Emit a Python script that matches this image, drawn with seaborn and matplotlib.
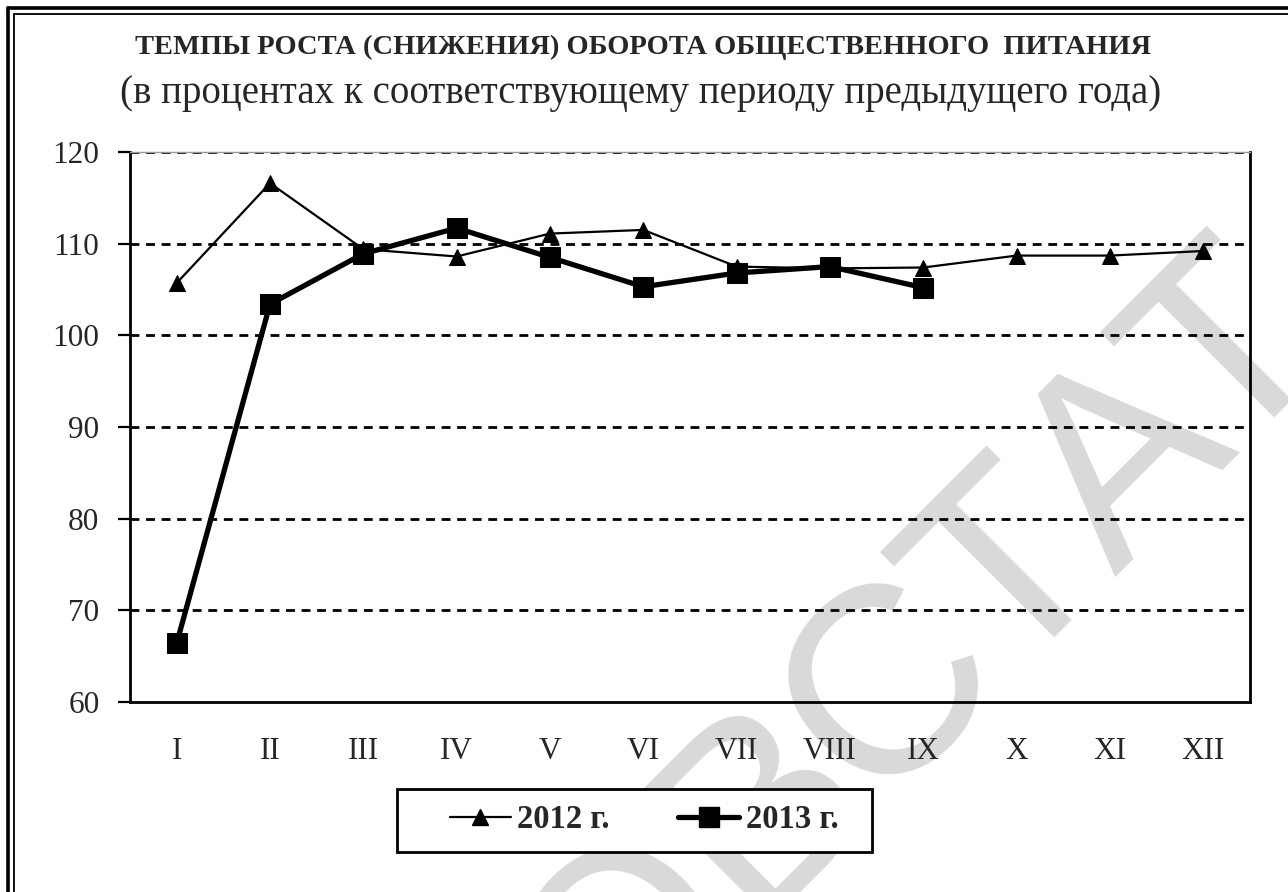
import numpy as np
import pandas as pd
import matplotlib
matplotlib.use("Agg")
import matplotlib.pyplot as plt
import seaborn as sns
from matplotlib.lines import Line2D
from matplotlib.patches import Rectangle

months = ["I", "II", "III", "IV", "V", "VI", "VII", "VIII", "IX", "X", "XI", "XII"]
values_2012 = [105.7, 116.6, 109.4, 108.6, 111.1, 111.5, 107.5, 107.3, 107.4, 108.7, 108.7, 109.2]
values_2013 = [66.4, 103.4, 108.9, 111.7, 108.5, 105.3, 106.8, 107.5, 105.2]
yticks = [60, 70, 80, 90, 100, 110, 120]
label_2012 = "2012 г."
label_2013 = "2013 г."
title = "ТЕМПЫ РОСТА (СНИЖЕНИЯ) ОБОРОТА ОБЩЕСТВЕННОГО  ПИТАНИЯ"
subtitle = "(в процентах к соответствующему периоду предыдущего года)"
watermark = "ОВСТАТ"

W, H = 1288, 892


def px(x, y):
    # pixel position (from top-left) -> figure fraction
    return x / W, 1 - y / H


sns.set_style("white")
plt.rcParams["font.family"] = ["Liberation Serif", "DejaVu Serif"]

fig = plt.figure(figsize=(W / 100, H / 100), dpi=100)
fig.patch.set_facecolor("white")
ax = fig.add_axes([130 / W, 1 - 702 / H, (1250 - 130) / W, (702 - 152) / H])
ax.patch.set_alpha(0)

df12 = pd.DataFrame({"pos": range(len(values_2012)), "val": values_2012})
df13 = pd.DataFrame({"pos": range(len(values_2013)), "val": values_2013})

sns.lineplot(data=df12, x="pos", y="val", ax=ax, color="black", linewidth=1.6,
             marker="^", markersize=11, markeredgecolor="black", zorder=4)
sns.lineplot(data=df13, x="pos", y="val", ax=ax, color="black", linewidth=3.8,
             marker="s", markersize=14.5, markeredgecolor="black", zorder=5)

ax.set_xlim(-0.5, 11.5)
ax.set_ylim(60, 120)
ax.set_yticks(yticks)
ax.set_yticklabels([str(t) for t in yticks], fontsize=22.5)
ax.set_xticks(np.arange(-0.5, 12, 1))
ax.set_xticklabels([])
ax.set_xticks(range(12), minor=True)
ax.set_xticklabels(months, minor=True, fontsize=22.5)
ax.tick_params(axis="x", which="major", direction="out", length=9, width=1.6, color="black")
ax.tick_params(axis="x", which="minor", length=0, pad=25)
ax.tick_params(axis="y", direction="out", length=9, width=1.6, color="black", pad=13, left=True)
ax.set_xlabel("")
ax.set_ylabel("")

for y in yticks[1:]:
    ax.axhline(y, color="black", linewidth=2.0, linestyle=(0, (3.2, 2.4)), zorder=2)

for side in ["left", "bottom", "right"]:
    ax.spines[side].set_color("black")
    ax.spines[side].set_linewidth(2.0)
ax.spines["top"].set_color("#999999")
ax.spines["top"].set_linewidth(1.0)

# watermark behind the chart
x0, y0 = px(1338, 342)
fig.text(x0, y0, watermark, fontsize=192, color="#d9d9d9", family="Liberation Sans",
         rotation=45, rotation_mode="anchor", ha="right", va="baseline", zorder=-1)

# titles
tx, ty = px(643, 47)
fig.text(tx, ty, title, fontsize=20.5, fontweight="bold", ha="center", va="center")
sx, sy = px(641, 94)
fig.text(sx, sy, subtitle, fontsize=28, ha="center", va="center")

# double frame on top and left
for (lw, off) in [(2.6, 7.5), (1.3, 13.5)]:
    fig.add_artist(Line2D([off / W, 1], [1 - off / H, 1 - off / H], transform=fig.transFigure,
                          color="black", linewidth=lw))
    fig.add_artist(Line2D([off / W, off / W], [0, 1 - off / H], transform=fig.transFigure,
                          color="black", linewidth=lw))

# legend box drawn separately (Excel-style, wider on the left)
bx, by = px(397, 852)
fig.add_artist(Rectangle((bx, by), (872 - 397) / W, (852 - 789) / H, transform=fig.transFigure,
                         facecolor="white", edgecolor="black", linewidth=2.0, zorder=3))

handles = [
    Line2D([0], [0], color="black", linewidth=1.6, marker="^", markersize=11, label=label_2012),
    Line2D([0], [0], color="black", linewidth=3.8, marker="s", markersize=14.5, label=label_2013),
]
lx, ly = px(644, 820)
leg = fig.legend(handles=handles, loc="center", bbox_to_anchor=(lx, ly), ncol=2,
                 frameon=False,
                 prop={"family": "Liberation Serif", "weight": "bold", "size": 23.5},
                 handlelength=1.87, handletextpad=0.2, columnspacing=2.1,
                 borderpad=0.2, borderaxespad=0)
leg.set_zorder(4)

fig.savefig("out.png", dpi=100, facecolor="white")
